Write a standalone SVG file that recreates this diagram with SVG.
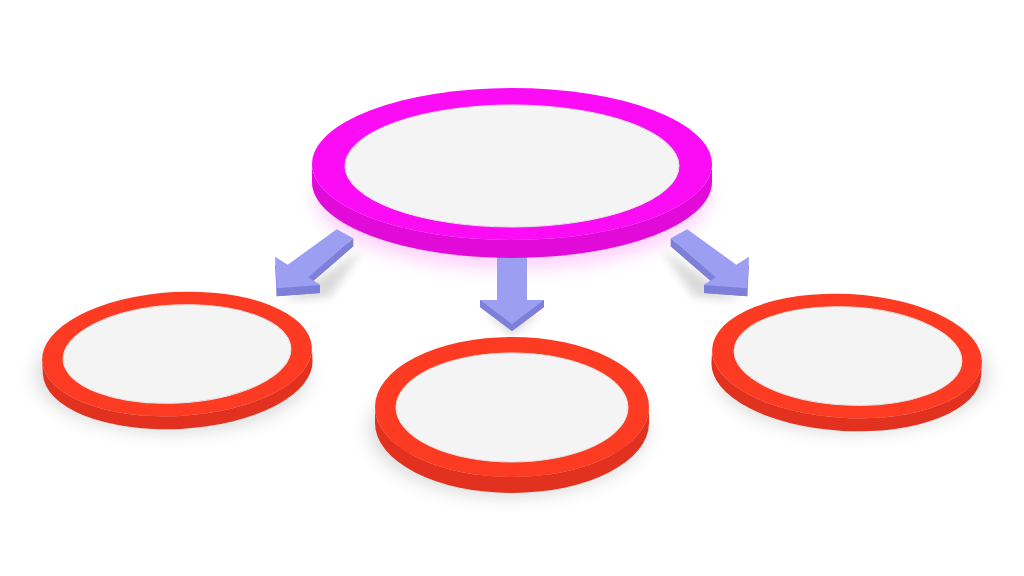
<svg xmlns="http://www.w3.org/2000/svg" width="1024" height="576" viewBox="0 0 1024 576">
  <defs>
    <filter id="blur" x="-30%" y="-30%" width="160%" height="160%">
      <feGaussianBlur stdDeviation="9"/>
    </filter>
    <filter id="blurS" x="-30%" y="-30%" width="160%" height="160%">
      <feGaussianBlur stdDeviation="4"/>
    </filter>
  </defs>
  <style>
    .shadow { fill: #7a7a7a; opacity: 0.28; }
    .glow { fill: #ff40f0; opacity: 0.25; }
    .mTop { fill: #fb0cf5; }
    .mSide { fill: #e10ad9; }
    .rTop { fill: #fc3b22; }
    .rSide { fill: #e3311f; }
    .inner { fill: #f4f4f4; stroke: #e4e4e4; stroke-width: 1; }
    .aTop { fill: #9c9ef1; }
    .aSide { fill: #7d80d8; }
  </style>
  <rect width="1024" height="576" fill="#ffffff"/>

  <!-- soft shadows -->
  <g id="shadows">
    <ellipse class="glow" cx="512" cy="196" rx="196" ry="72" filter="url(#blur)"/>
    <ellipse class="shadow" cx="172" cy="374" rx="136" ry="58" filter="url(#blur)"/>
    <ellipse class="shadow" cx="508" cy="430" rx="138" ry="66" filter="url(#blur)"/>
    <ellipse class="shadow" cx="852" cy="374" rx="136" ry="58" filter="url(#blur)"/>
    <path class="shadow" d="M284,300 L330,297 L362,250 Z" filter="url(#blurS)"/>
    <path class="shadow" d="M740,300 L694,297 L662,250 Z" filter="url(#blurS)"/>
    <path class="shadow" d="M486,312 L512,336 L540,312 Z" filter="url(#blurS)"/>
  </g>

  <!-- connectors: 3D arrows -->
  <g id="connectors">
    <g id="arrow-left">
      <polygon class="aSide" points="336.7,237.3 353.3,246.3 308.3,285.3 320,293 276.7,296.3 275,264.7 287.7,272.7"/>
      <polygon class="aSide" points="353.3,238.3 353.3,246.3 308.3,285.3 308.3,277.3"/>
      <polygon class="aSide" points="308.3,277.3 320,285 320,293 308.3,285.3"/>
      <polygon class="aSide" points="320,285 276.7,288.3 276.7,296.3 320,293"/>
      <polygon class="aTop" points="336.7,229.3 353.3,238.3 308.3,277.3 320,285 276.7,288.3 275,256.7 287.7,264.7"/>
    </g>
    <g id="arrow-center">
      <polygon class="aSide" points="497,257 527,257 527,307 544,307 512,331 480,307 497,307"/>
      <polygon class="aSide" points="480,300 544,300 544,307 512,331 480,307"/>
      <polygon class="aTop" points="497,250 527,250 527,300 544,300 512,324 480,300 497,300"/>
    </g>
    <g id="arrow-right">
      <polygon class="aSide" points="687.3,237.3 670.7,246.3 715.7,285.3 704,293 747.3,296.3 749,264.7 736.3,272.7"/>
      <polygon class="aSide" points="670.7,238.3 670.7,246.3 715.7,285.3 715.7,277.3"/>
      <polygon class="aSide" points="715.7,277.3 704,285 704,293 715.7,285.3"/>
      <polygon class="aSide" points="704,285 747.3,288.3 747.3,296.3 704,293"/>
      <polygon class="aTop" points="687.3,229.3 670.7,238.3 715.7,277.3 704,285 747.3,288.3 749,256.7 736.3,264.7"/>
    </g>
  </g>

  <!-- top node -->
  <g id="node-top">
    <path class="mSide" d="M312,164 A200,76 0 0 0 712,164 L712,182 A200,76 0 0 1 312,182 Z"/>
    <ellipse class="mTop" cx="512" cy="164" rx="200" ry="76"/>
    <ellipse class="inner" cx="512" cy="166" rx="167" ry="61"/>
  </g>

  <!-- left node -->
  <g id="node-left" transform="rotate(-3 177 354)">
    <path class="rSide" d="M42,354 A135,62 0 0 0 312,354 L312,367 A135,62 0 0 1 42,367 Z"/>
    <ellipse class="rTop" cx="177" cy="354" rx="135" ry="62"/>
    <ellipse class="inner" cx="177" cy="354" rx="114" ry="49"/>
  </g>

  <!-- center node -->
  <g id="node-center">
    <path class="rSide" d="M375,407 A137,70 0 0 0 649,407 L649,423 A137,70 0 0 1 375,423 Z"/>
    <ellipse class="rTop" cx="512" cy="407" rx="137" ry="70"/>
    <ellipse class="inner" cx="512" cy="407.5" rx="116" ry="54.5"/>
  </g>

  <!-- right node -->
  <g id="node-right" transform="rotate(3 847 356)">
    <path class="rSide" d="M712,356 A135,62 0 0 0 982,356 L982,369 A135,62 0 0 1 712,369 Z"/>
    <ellipse class="rTop" cx="847" cy="356" rx="135" ry="62"/>
    <ellipse class="inner" cx="848" cy="356" rx="114" ry="49"/>
  </g>
</svg>
